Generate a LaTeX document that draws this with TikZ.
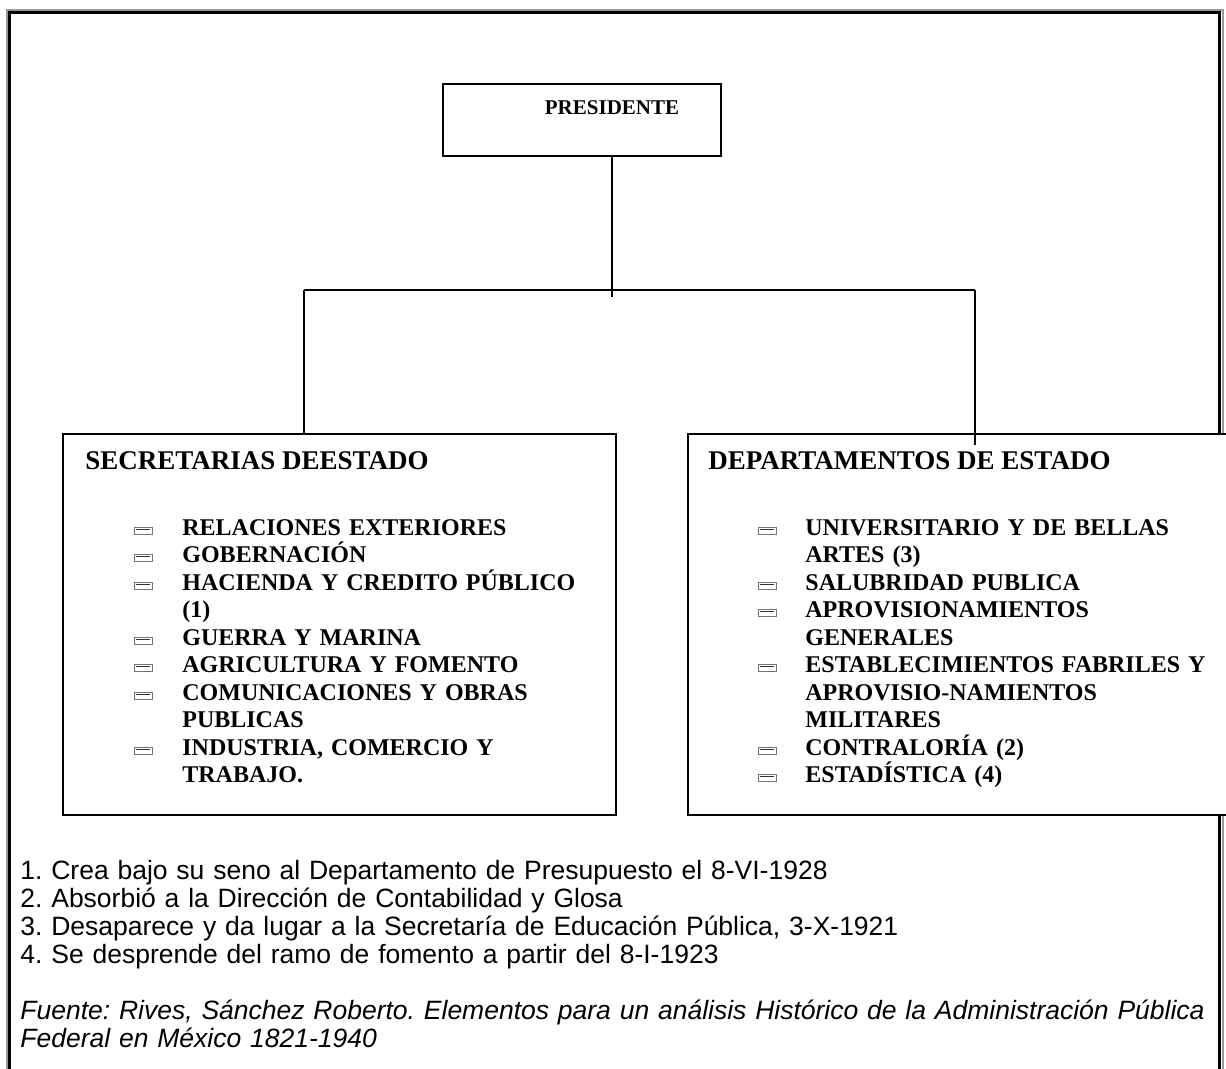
\documentclass[tikz,border=0pt]{standalone}
\usepackage{fontspec}
\setmainfont{Liberation Serif}
\setsansfont{Liberation Sans}
\frenchspacing
\tikzset{
  box/.style={draw, line width=1pt, inner sep=0pt, outer sep=0pt, anchor=north west},
  chief/.style={font=\fontsize{10.5}{12}\selectfont\bfseries, anchor=base, inner sep=0pt},
  head/.style={font=\fontsize{13.5}{15}\selectfont\bfseries, anchor=base west, inner sep=0pt},
  entry/.style={font=\fontsize{12}{13.75}\selectfont\bfseries, anchor=base west, inner sep=0pt, text width=215pt, align=left},
  note/.style={font=\sffamily\fontsize{13.25}{14}\selectfont, anchor=base west, inner sep=0pt, text width=640pt, align=left},
  bul/.style={draw=black!55, line width=0.5pt},
}

\begin{document}
\begin{tikzpicture}[x=0.5pt, y=-0.5pt]
  \useasboundingbox (0,0) rectangle (1226,1069);
  \clip (0,0) rectangle (1226,1069);
  % outer frame
  \draw[black!40, line width=1pt] (7,10) rectangle (1222.5,1100);
  \draw[line width=1.5pt] (9.5,13) rectangle (1219,1100);

  % president
  \node[box, minimum width=139pt, minimum height=36pt] at (443,84) (pres) {};
  \node[chief] at (612,115) (prestxt) {PRESIDENTE};

  % the two branches
  \node[box, minimum width=276.5pt, minimum height=190.5pt] at (63,434) (sec) {};
  \node[box, fill=white, minimum width=276pt, minimum height=190.5pt] at (688,434) (dep) {};
  \node[head] at (85,470) (sechead) {SECRETARIAS DEESTADO};
  \node[head] at (708,470) (dephead) {DEPARTAMENTOS DE ESTADO};

  \coordinate (jl) at (304,290);
  \coordinate (jr) at (975,290);
  \coordinate (tail) at (612,297);
  \coordinate (tip) at (975,445);
  \draw[line width=1pt] (prestxt |- pres.south) -- (tail);
  \draw[line width=1pt] (jl) -- (jr);
  \draw[line width=1pt] (jl) -- (jl |- sec.north);
  \draw[line width=1pt] (jr) -- (tip);

  % secretarias
  \foreach \n/\k/\t [evaluate=\k as \yy using 535+27.5*\k] in
    {1/0/{RELACIONES EXTERIORES},
     2/1/{GOBERNACIÓN},
     3/2/{HACIENDA Y CREDITO PÚBLICO\\(1)},
     4/4/{GUERRA Y MARINA},
     5/5/{AGRICULTURA Y FOMENTO},
     6/6/{COMUNICACIONES Y OBRAS\\PUBLICAS},
     7/8/{INDUSTRIA, COMERCIO Y\\TRABAJO.}}{
    \node[entry] at (182,\yy) (sec\n) {\t};
    \draw[bul] (134,\yy-1) rectangle (152,\yy-8);
    \draw[bul, draw=black!80] (136,\yy-6) -- (150,\yy-6);
  }

  % departamentos
  \foreach \n/\k/\t [evaluate=\k as \yy using 535+27.5*\k] in
    {1/0/{UNIVERSITARIO Y DE BELLAS\\ARTES (3)},
     2/2/{SALUBRIDAD PUBLICA},
     3/3/{APROVISIONAMIENTOS\\GENERALES},
     4/5/{ESTABLECIMIENTOS FABRILES Y\\APROVISIO-NAMIENTOS\\MILITARES},
     5/8/{CONTRALORÍA (2)},
     6/9/{ESTADÍSTICA (4)}}{
    \node[entry] at (805,\yy) (dep\n) {\t};
    \draw[bul] (758,\yy-1) rectangle (776,\yy-8);
    \draw[bul, draw=black!80] (760,\yy-6) -- (774,\yy-6);
  }

  % notes
  \node[note] at (20,879) (notes) {1. Crea bajo su seno al Departamento de Presupuesto el 8-VI-1928\\
    2. Absorbió a la Dirección de Contabilidad y Glosa\\
    3. Desaparece y da lugar a la Secretaría de Educación Pública, 3-X-1921\\
    4. Se desprende del ramo de fomento a partir del 8-I-1923};
  \node[note, font=\sffamily\itshape\fontsize{13.25}{14}\selectfont] at (20,1019) (source)
    {Fuente: Rives, Sánchez Roberto. Elementos para un análisis Histórico de la Administración Pública\\
    Federal en México 1821-1940};
\end{tikzpicture}
\end{document}
